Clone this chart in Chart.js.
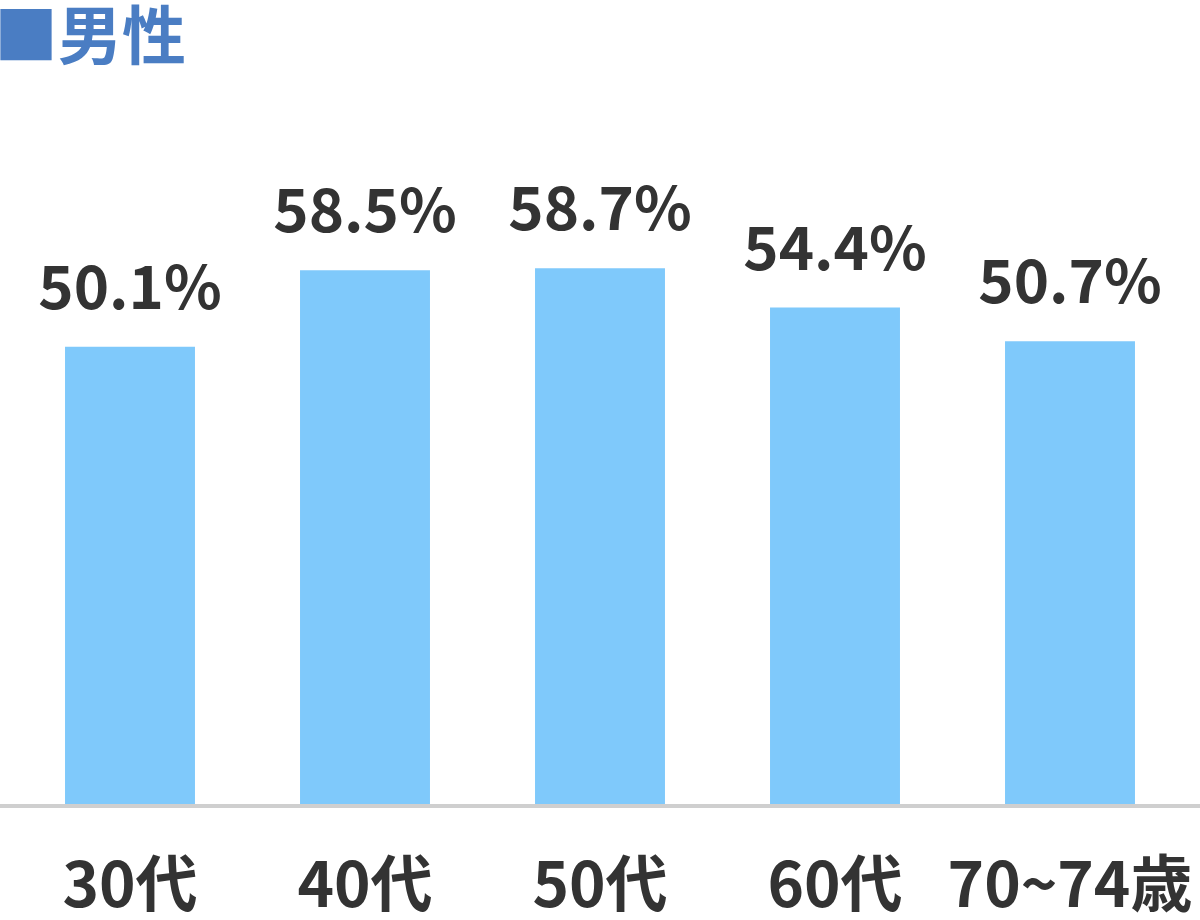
<!DOCTYPE html>
<html>
<head>
<meta charset="utf-8">
<script src="https://cdn.jsdelivr.net/npm/chart.js@4"></script>
<style>
  html,body{margin:0;padding:0;background:#fff;}
  #wrap{position:relative;width:1200px;height:920px;}
  #title{position:absolute;left:-6px;top:-15px;margin:0;
    font:bold 64px "Noto Sans CJK JP";color:#4a7dc3;white-space:nowrap;}
</style>
</head>
<body>
<div id="wrap">
  <canvas id="maleChart" width="1200" height="920"></canvas>
  <h1 id="title">■男性</h1>
</div>
<script>
/* ===== Data ===== */
const ageGroups = ["30代","40代","50代","60代","70~74歳"];
const malePercent = [50.1, 58.5, 58.7, 54.4, 50.7];

const BAR_COLOR = "#7fc9fb";
const TEXT_COLOR = "#333333";
const FONT = '"Noto Sans CJK JP"';

/* ===== Plugins ===== */
// value labels above each bar
const valueLabels = {
  id:"valueLabels",
  afterDatasetsDraw(chart){
    const ctx = chart.ctx;
    const meta = chart.getDatasetMeta(0);
    ctx.save();
    ctx.font = "bold 60px "+FONT;
    ctx.fillStyle = TEXT_COLOR;
    ctx.textAlign = "center";
    ctx.textBaseline = "alphabetic";
    meta.data.forEach((bar,i)=>{
      ctx.fillText(malePercent[i].toFixed(1)+"%", bar.x, bar.y-38);
    });
    ctx.restore();
  }
};

// grey baseline running the full canvas width
const baseLine = {
  id:"baseLine",
  afterDatasetsDraw(chart){
    const ctx = chart.ctx;
    const y = chart.scales.y.getPixelForValue(0);
    ctx.save();
    ctx.fillStyle = "#cfcfcf";
    ctx.fillRect(0, y, chart.width, 4);
    ctx.restore();
  }
};

new Chart(document.getElementById("maleChart"),{
  type:"bar",
  data:{
    labels:ageGroups,
    datasets:[{
      data:malePercent,
      backgroundColor:BAR_COLOR,
      borderWidth:0,
      barPercentage:1,
      categoryPercentage:0.553
    }]
  },
  options:{
    responsive:false,
    animation:false,
    layout:{padding:{top:74,left:12.5,right:12.5,bottom:0}},
    plugins:{legend:{display:false},tooltip:{enabled:false},title:{display:false}},
    scales:{
      x:{
        grid:{display:false,drawTicks:false},
        border:{display:false},
        ticks:{color:TEXT_COLOR,font:{family:FONT,size:62,weight:"bold"},padding:42,maxRotation:0,autoSkip:false},
        afterFit(scale){
          scale.height = 116;
          scale.paddingLeft = 0;
          scale.paddingRight = 0;
        }
      },
      y:{
        display:false,
        min:0,
        max:80
      }
    }
  },
  plugins:[valueLabels,baseLine]
});
</script>
</body>
</html>
